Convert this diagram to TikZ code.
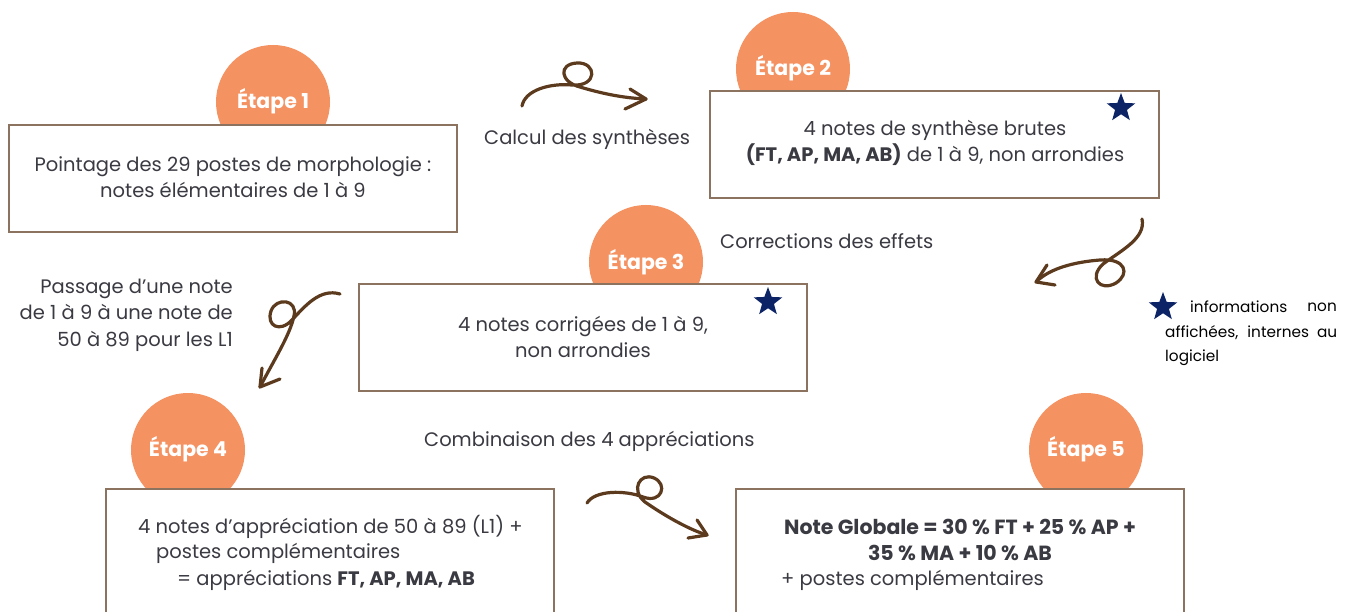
\documentclass[tikz,border=0pt]{standalone}
\usepackage{fontspec}
\setmainfont{Poppins}
\definecolor{circ}{RGB}{245,146,98}
\definecolor{boxline}{RGB}{140,115,95}
\definecolor{txt}{RGB}{58,58,66}
\definecolor{brw}{RGB}{92,58,30}
\definecolor{navy}{RGB}{12,36,102}
\usetikzlibrary{shapes.geometric}
\begin{document}
\begin{tikzpicture}[x=1pt,y=-1pt,
  stepcirc/.style={circle,fill=circ,minimum size=114pt,inner sep=0pt},
  stepbox/.style={draw=boxline,line width=1.1pt,fill=white},
  etape/.style={text=white,font=\fontsize{20.5}{22}\selectfont\bfseries},
  body/.style={text=txt,font=\fontsize{19.5}{26.5}\selectfont,align=center,inner sep=0pt},
  lbl/.style={text=txt,font=\fontsize{19.5}{26.5}\selectfont,inner sep=0pt},
  bld/.style={text=txt,font=\fontsize{20.5}{26.5}\selectfont\bfseries,inner sep=0pt},
  leg/.style={text=black,font=\fontsize{15.3}{26}\selectfont,inner sep=0pt},
  curl/.style={draw=brw,line width=3.2pt,line cap=round,line join=round},
  starm/.style={star,star points=5,star point ratio=2.4,fill=navy,minimum size=30pt,inner sep=0pt}]
\clip (0,0) rectangle (1354,612);
\fill[white] (0,0) rectangle (1354,612);
% circles
\node[stepcirc] (c1) at (273,102) {};
\node[stepcirc] (c2) at (793,69) {};
\node[stepcirc] (c3) at (646,262) {};
\node[stepcirc] (c4) at (188,450) {};
\node[stepcirc] (c5) at (1086,450) {};
% boxes
\draw[stepbox] (9,125) rectangle (457,232);
\draw[stepbox] (710,91) rectangle (1159,198);
\draw[stepbox] (359,284) rectangle (807,391);
\draw[stepbox] (106,489) rectangle (554,640);
\draw[stepbox] (736,489) rectangle (1184,640);
% step labels
\node[etape] (e1) at (273,101) {Étape 1};
\node[etape] (e2) at (793,68) {Étape 2};
\node[etape] (e3) at (646,262) {Étape 3};
\node[etape] (e4) at (188,449) {Étape 4};
\node[etape] (e5) at (1086,449) {Étape 5};
% box texts
\node[body] (t1) at (233,177) {Pointage des 29 postes de morphologie :\\notes élémentaires de 1 à 9};
\node[body] (t2) at (935,143) {4 notes de synthèse brutes\\\textbf{(FT, AP, MA, AB)} de 1 à 9, non arrondies};
\node[body] (t3) at (583,337) {4 notes corrigées de 1 à 9,\\non arrondies};
\node[lbl,anchor=west] (t4a) at (138,527) {4 notes d’appréciation de 50 à 89 (L1) +};
\node[lbl,anchor=west] (t4b) at (156,553) {postes complémentaires};
\node[lbl,anchor=west] (t4c) at (177,580) {= appréciations \textbf{FT, AP, MA, AB}};
\node[bld] (t5a) at (960,527) {Note Globale = 30 \% FT + 25 \% AP +};
\node[bld] (t5b) at (960,553) {35 \% MA + 10 \% AB};
\node[lbl,anchor=west] (t5c) at (781,580) {+ postes complémentaires};
% labels
\node[lbl,anchor=west] (l1) at (484,139) {Calcul des synthèses};
\node[lbl,anchor=west] (l2) at (720,241) {Corrections des effets};
\node[lbl,anchor=east,align=right] (l3) at (233,315) {Passage d’une note\\de 1 à 9 à une note de\\50 à 89 pour les L1};
\node[lbl,anchor=west] (l4) at (424,441) {Combinaison des 4 appréciations};
% stars
\node[starm] (s1) at (1121,108) {};
\node[starm] (s2) at (768,302) {};
\node[starm] (s3) at (1163,307) {};
% legend
\node[leg,anchor=west] (g1) at (1190,307) {informations};
\node[leg,anchor=east] (g2) at (1337,307) {non};
\node[leg,anchor=west] (g3) at (1165,333) {\makebox[172pt][s]{affichées, internes au}};
\node[leg,anchor=west] (g4) at (1165,358) {logiciel};
% curly arrows
\coordinate (a1s) at (522,106);
\coordinate (a1t) at (646,99);
\draw[curl] (a1s) .. controls (525,90) and (550,83) .. (572,85) .. controls (598,87) and (597,62) .. (577,63) .. controls (558,64) and (560,82) .. (580,87) .. controls (600,93) and (622,98) .. (a1t);
\draw[curl] (630,89) -- (a1t) -- (625,109);
\coordinate (a2s) at (1142,219);
\coordinate (a2t) at (1036,282);
\draw[curl] (a2s) .. controls (1146,238) and (1122,250) .. (1103,264) .. controls (1088,278) and (1100,292) .. (1116,283) .. controls (1130,274) and (1126,258) .. (1100,260) .. controls (1075,262) and (1050,268) .. (a2t);
\draw[curl] (1047,265) -- (a2t) -- (1055,285);
\coordinate (a3s) at (340,294);
\coordinate (a3t) at (260,387);
\draw[curl] (a3s) .. controls (320,288) and (305,306) .. (292,320) .. controls (280,333) and (266,326) .. (271,311) .. controls (276,297) and (298,299) .. (294,316) .. controls (290,335) and (274,360) .. (a3t);
\draw[curl] (262,368) -- (a3t) -- (280,379);
\coordinate (a4s) at (587,503);
\coordinate (a4t) at (707,535);
\draw[curl] (a4s) .. controls (595,490) and (625,490) .. (643,497) .. controls (662,504) and (668,484) .. (654,478) .. controls (640,472) and (630,490) .. (645,502) .. controls (665,516) and (690,530) .. (a4t);
\draw[curl] (697,520) -- (a4t) -- (688,538);
\end{tikzpicture}
\end{document}
